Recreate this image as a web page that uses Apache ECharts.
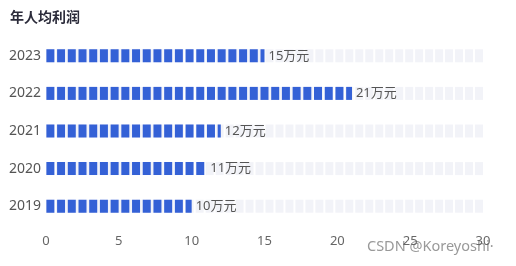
<!DOCTYPE html>
<html><head><meta charset="utf-8">
<script src="https://cdn.jsdelivr.net/npm/echarts@6/dist/echarts.min.js"></script>
<style>html,body{margin:0;padding:0;background:#fff}#c{width:516px;height:266px}</style>
</head><body><div id="c"></div>
<script>
const categories = ['2019', '2020', '2021', '2022', '2023'];
const values = [10, 11, 12, 21, 15];
const maxValue = 30;
const xTicks = [0, 5, 10, 15, 20, 25, 30];

const chart = echarts.init(document.getElementById('c'));
chart.setOption({
  animation: false,
  textStyle: { fontFamily: '"Noto Sans", "Noto Sans CJK SC", sans-serif' },
  title: { text: '年人均利润', left: 5, top: 5, textStyle: { fontSize: 14, fontWeight: 'bold', color: '#2b2b3a', fontFamily: 'Noto Sans CJK SC' } },
  grid: { left: 46, right: 33, top: 37, bottom: 41 },
  xAxis: {
    type: 'value', min: xTicks[0], max: xTicks[xTicks.length - 1], interval: 5,
    splitLine: { show: false }, axisLine: { show: false }, axisTick: { show: false },
    axisLabel: { color: '#666', fontSize: 13, margin: 10 }
  },
  yAxis: {
    type: 'category', data: categories,
    axisLine: { show: false }, axisTick: { show: false },
    axisLabel: { color: '#555', fontSize: 14, margin: 5 }
  },
  graphic: [{ type: 'text', left: 367, top: 239, style: { text: 'CSDN @Koreyoshi·', fill: '#999', font: '14.5px "Noto Sans", sans-serif' } }],
  series: [
    {
      type: 'pictorialBar', data: categories.map(() => maxValue),
      symbol: 'rect', symbolRepeat: 'fixed', symbolMargin: 1, symbolSize: [8, 13],
      symbolClip: true, barGap: '-100%', z: 1, silent: true,
      itemStyle: { color: '#f2f3f8' }
    },
    {
      type: 'pictorialBar', data: values,
      symbol: 'rect', symbolRepeat: 'fixed', symbolMargin: 1, symbolSize: [8, 13],
      symbolClip: true, barGap: '-100%', z: 2,
      itemStyle: { color: '#3461d6', borderColor: '#8aa4ea', borderWidth: 1 }
    },
    {
      type: 'pictorialBar', data: values, barGap: '-100%',
      symbol: 'rect', symbolRepeat: false, symbolSize: ['100%', 13], z: 3,
      itemStyle: { color: 'rgba(0,0,0,0)' },
      label: { show: true, position: 'right', offset: [-1, 0], formatter: p => p.value + '万元', color: '#555', fontSize: 13 }
    }
  ]
});
</script></body></html>
